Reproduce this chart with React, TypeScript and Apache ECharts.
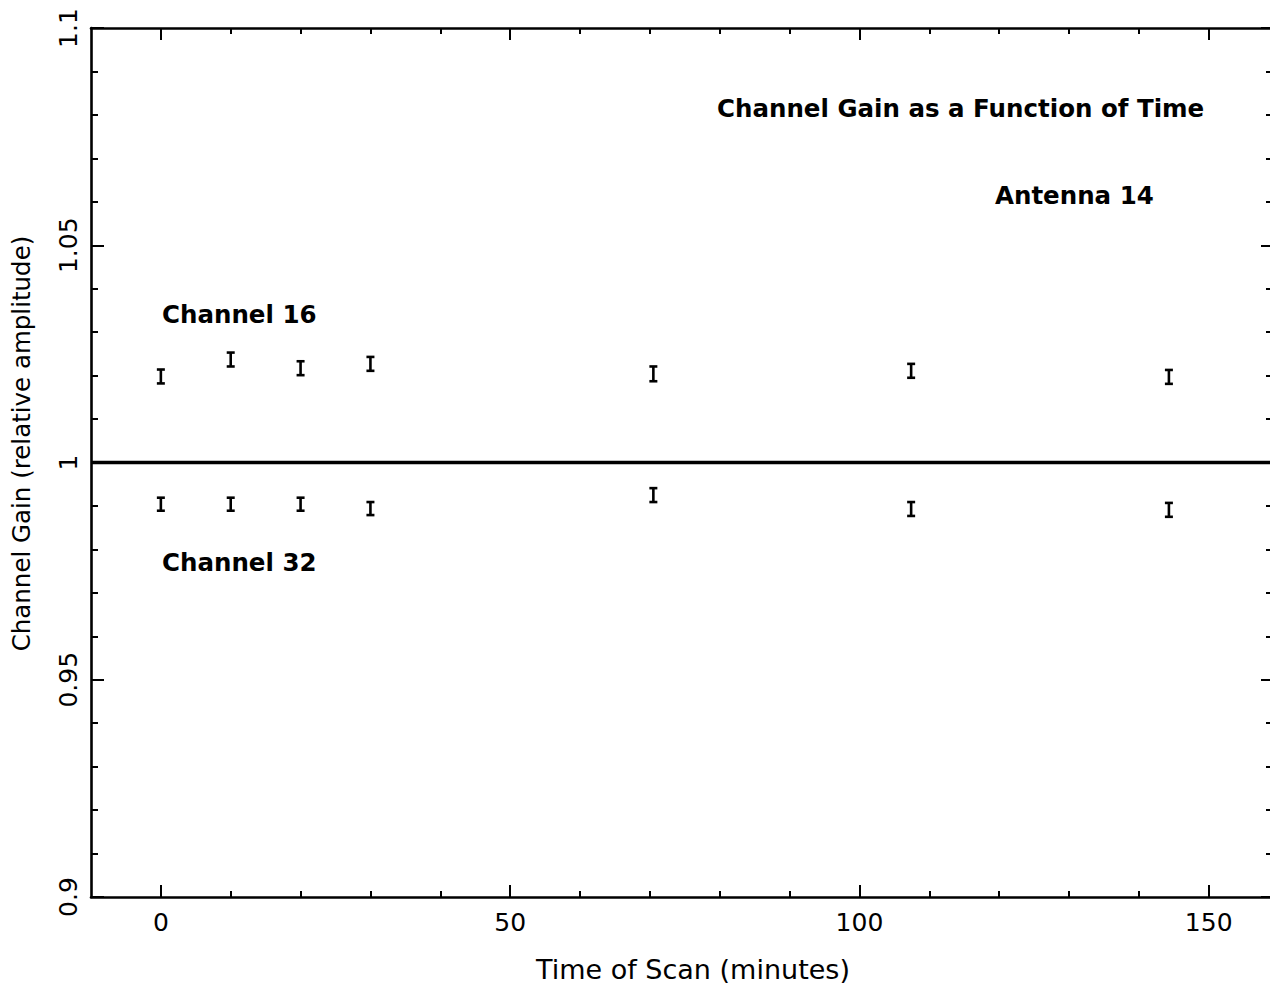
import React, { useEffect, useRef } from "react";
import * as echarts from "echarts";

const scanTimes = [0, 10, 20, 30, 70.5, 107.4, 144.3];
const channel16Gain = [1.0198, 1.0237, 1.0217, 1.0227, 1.0204, 1.0211, 1.0197];
const channel32Gain = [0.9904, 0.9904, 0.9904, 0.9894, 0.9925, 0.9893, 0.9891];
const channel16Err = [0.0016, 0.0016, 0.0016, 0.0016, 0.0017, 0.0016, 0.0016];
const channel32Err = [0.0015, 0.0015, 0.0015, 0.0015, 0.0016, 0.0016, 0.0016];

const xMinorTicks = [0, 10, 20, 30, 40, 60, 70, 80, 90, 110, 120, 130, 140, 150];
const xMajorTicks = [0, 50, 100, 150];
const yMinorTicks = [0.91, 0.92, 0.93, 0.94, 0.96, 0.97, 0.98, 0.99, 1.01, 1.02, 1.03, 1.04, 1.06, 1.07, 1.08, 1.09];
const yMajorTicks = [0.9, 0.95, 1.0, 1.05, 1.1];

const X_MIN = -10;
const X_MAX = 159.2;
const Y_MIN = 0.9;
const Y_MAX = 1.1;

const FONT = "DejaVu Sans";
const INK = "#000";

function errorItem(params: any, api: any) {
  const x = api.value(0);
  const y = api.value(1);
  const e = api.value(2);
  const top = api.coord([x, y + e]);
  const bot = api.coord([x, y - e]);
  const cap = 4;
  const style = { stroke: INK, lineWidth: 2.6 };
  return {
    type: "group",
    children: [
      { type: "line", shape: { x1: top[0], y1: top[1], x2: bot[0], y2: bot[1] }, style },
      { type: "line", shape: { x1: top[0] - cap, y1: top[1], x2: top[0] + cap, y2: top[1] }, style },
      { type: "line", shape: { x1: bot[0] - cap, y1: bot[1], x2: bot[0] + cap, y2: bot[1] }, style },
    ],
  };
}

function makeX(position: string, ticks: number[], len: number, showLine: boolean, labels: boolean) {
  return {
    type: "value",
    position,
    min: X_MIN,
    max: X_MAX,
    splitLine: { show: false },
    axisLine: { show: showLine, onZero: false, lineStyle: { color: INK, width: 2.6 } },
    axisTick: { show: true, inside: true, length: len, customValues: ticks, lineStyle: { color: INK, width: 2 } },
    axisLabel: labels
      ? { show: true, customValues: xMajorTicks, margin: 13, fontSize: 25, fontFamily: FONT, color: INK }
      : { show: false },
    ...(labels
      ? {
          name: "Time of Scan (minutes)",
          nameLocation: "middle",
          nameGap: 59,
          nameTextStyle: { fontSize: 27, fontFamily: FONT, color: INK, padding: [0, 0, 0, 22] },
        }
      : {}),
  };
}

function makeY(position: string, ticks: number[], len: number, showLine: boolean, labels: boolean) {
  return {
    type: "value",
    position,
    min: Y_MIN,
    max: Y_MAX,
    splitLine: { show: false },
    axisLine: { show: showLine, onZero: false, lineStyle: { color: INK, width: 2.6 } },
    axisTick: { show: true, inside: true, length: len, customValues: ticks, lineStyle: { color: INK, width: 2 } },
    axisLabel: labels
      ? {
          show: true,
          customValues: yMajorTicks,
          rotate: 90,
          margin: 10,
          fontSize: 25,
          fontFamily: FONT,
          color: INK,
          formatter: (v: number) => String(parseFloat(v.toFixed(2))),
        }
      : { show: false },
    ...(labels
      ? {
          name: "Channel Gain (relative amplitude)",
          nameLocation: "middle",
          nameGap: 57,
          nameTextStyle: { fontSize: 24.5, fontFamily: FONT, color: INK, padding: [0, 0, 0, 38] },
        }
      : {}),
  };
}

const annoStyle = { fontSize: 24.5, fontWeight: "bold", fontFamily: FONT, fill: INK };

export default function App() {
  const ref = useRef<HTMLDivElement>(null);
  useEffect(() => {
    if (!ref.current) return;
    const chart = echarts.init(ref.current, null, { renderer: "svg" });
    const ch16 = scanTimes.map((t, i) => [t, channel16Gain[i], channel16Err[i]]);
    const ch32 = scanTimes.map((t, i) => [t, channel32Gain[i], channel32Err[i]]);
    chart.setOption({
      animation: false,
      backgroundColor: "#fff",
      grid: { left: 91, top: 28, width: 1182, height: 869 },
      xAxis: [
        makeX("bottom", xMinorTicks, 6, true, true),
        makeX("bottom", xMajorTicks, 12, false, false),
        makeX("top", xMinorTicks, 6, true, false),
        makeX("top", xMajorTicks, 12, false, false),
      ],
      yAxis: [
        makeY("left", yMinorTicks, 7, true, true),
        makeY("left", yMajorTicks, 13, false, false),
        makeY("right", yMinorTicks, 7, false, false),
        makeY("right", yMajorTicks, 12, false, false),
      ],
      series: [
        {
          type: "custom",
          name: "Channel 16",
          renderItem: errorItem,
          data: ch16,
          encode: { x: 0, y: [1, 2] },
          clip: false,
        },
        {
          type: "custom",
          name: "Channel 32",
          renderItem: errorItem,
          data: ch32,
          encode: { x: 0, y: [1, 2] },
          clip: false,
        },
        {
          type: "line",
          name: "Unity",
          data: [
            [X_MIN, 1.0],
            [X_MAX, 1.0],
          ],
          symbol: "none",
          lineStyle: { color: INK, width: 3.5 },
        },
      ],
      graphic: [
        { type: "text", left: 717, top: 96, style: { text: "Channel Gain as a Function of Time", ...annoStyle } },
        { type: "text", left: 995, top: 183, style: { text: "Antenna 14", ...annoStyle } },
        { type: "text", left: 162, top: 302, style: { text: "Channel 16", ...annoStyle } },
        { type: "text", left: 162, top: 550, style: { text: "Channel 32", ...annoStyle } },
      ],
    });
    return () => chart.dispose();
  }, []);
  return (
    <div style={{ position: "absolute", left: 0, top: 0, width: 1270, height: 990, overflow: "hidden" }}>
      <div ref={ref} style={{ width: 1290, height: 990 }} />
    </div>
  );
}
